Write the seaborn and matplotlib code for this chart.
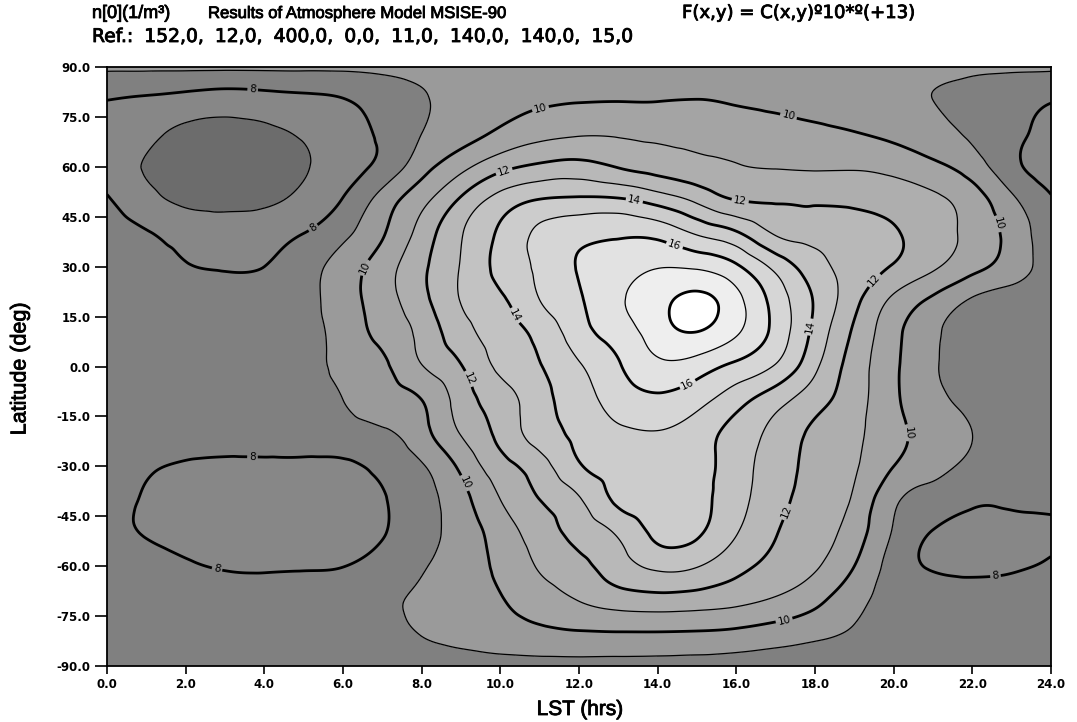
import numpy as np
import matplotlib
matplotlib.use("Agg")
import matplotlib.pyplot as plt
import matplotlib.tri as mtri
import matplotlib.patheffects as pe
import seaborn as sns

# Sample grid: local solar time (hours) and latitude (degrees)
lst_hours = np.arange(0, 25, 1)
latitudes = np.arange(-90, 91, 10)

# C(x, y) = n[O] / 1e13 m^-3, one list per latitude row (south to north)
row_s90 = [8.3, 8.3, 8.3, 8.3, 8.3, 8.3, 8.3, 8.3, 8.35, 8.45, 8.55, 8.6, 8.65, 8.65, 8.65, 8.6, 8.55, 8.45, 8.4, 8.35, 8.3, 8.3, 8.3, 8.3, 8.3]
row_s80 = [8.4, 8.4, 8.4, 8.4, 8.4, 8.4, 8.45, 8.65, 9.05, 9.35, 9.6, 9.8, 9.92, 9.96, 9.96, 9.92, 9.8, 9.55, 9.25, 8.9, 8.6, 8.5, 8.45, 8.4, 8.4]
row_s70 = [8.5, 8.5, 8.5, 8.5, 8.5, 8.5, 8.6, 8.85, 9.15, 9.55, 9.95, 10.5, 11.05, 11.5, 11.65, 11.55, 11.3, 10.9, 10.3, 9.3, 8.75, 8.55, 8.5, 8.5, 8.5]
row_s60 = [8.45, 8.4, 8.15, 7.9, 7.85, 7.9, 7.98, 8.4, 8.9, 9.55, 10.2, 11.1, 11.75, 12.55, 13.2, 13.05, 12.3, 11.7, 11.1, 10.0, 8.6, 7.9, 7.75, 7.85, 8.15]
row_s50 = [8.2, 7.95, 7.7, 7.6, 7.6, 7.6, 7.7, 7.95, 8.6, 9.45, 10.45, 11.5, 12.3, 13.14, 14.25, 14.15, 13.05, 12.05, 11.4, 10.5, 8.9, 7.95, 7.7, 7.7, 7.85]
row_s40 = [8.2, 7.95, 7.75, 7.65, 7.6, 7.65, 7.75, 7.95, 8.6, 9.65, 11.0, 12.0, 12.9, 14.2, 14.45, 14.3, 13.35, 12.35, 11.6, 10.85, 9.2, 8.6, 8.15, 8.15, 8.15]
row_s30 = [8.3, 8.1, 7.9, 7.8, 7.8, 7.82, 7.85, 8.2, 8.9, 10.2, 11.6, 12.57, 13.9, 14.35, 14.5, 14.35, 13.45, 12.5, 11.7, 11.1, 10.0, 9.3, 8.75, 8.5, 8.3]
row_s20 = [8.5, 8.5, 8.5, 8.5, 8.5, 8.5, 8.6, 8.85, 9.65, 11.06, 12.27, 13.47, 14.25, 14.8, 14.95, 14.5, 13.6, 12.7, 11.8, 11.2, 10.3, 9.6, 9.0, 8.6, 8.5]
row_s10 = [8.5, 8.5, 8.5, 8.5, 8.5, 8.7, 9.0, 9.5, 10.0, 11.45, 12.53, 13.63, 14.54, 15.45, 15.8, 15.35, 14.4, 13.4, 12.4, 11.4, 10.2, 9.27, 8.75, 8.55, 8.5]
row_eq = [8.5, 8.5, 8.5, 8.5, 8.5, 8.65, 9.22, 9.8, 10.95, 11.95, 13.21, 13.95, 14.9, 15.9, 16.75, 16.5, 15.75, 14.9, 13.2, 11.53, 10.2, 9.1, 8.7, 8.55, 8.5]
row_n10 = [8.5, 8.5, 8.5, 8.5, 8.55, 8.7, 9.38, 10.27, 11.29, 12.6, 13.48, 14.29, 15.55, 16.47, 17.5, 17.95, 17.1, 15.67, 13.7, 11.83, 10.3, 9.15, 8.7, 8.55, 8.5]
row_n20 = [8.5, 8.5, 8.5, 8.5, 8.55, 8.75, 9.5, 10.55, 11.7, 13.04, 13.84, 15.0, 15.9, 16.85, 17.65, 18.25, 17.3, 15.6, 13.9, 12.29, 10.8, 9.81, 8.9, 8.55, 8.5]
row_n30 = [8.4, 8.3, 8.05, 7.93, 8.0, 8.55, 9.44, 10.5, 11.79, 13.06, 14.28, 15.21, 16.05, 16.5, 16.95, 16.85, 16.15, 14.71, 13.4, 12.6, 11.92, 11.15, 10.31, 9.54, 8.4]
row_n40 = [8.25, 8.05, 7.7, 7.55, 7.7, 8.0, 8.75, 9.9, 11.39, 12.93, 14.17, 15.2, 15.7, 15.85, 15.7, 14.9, 14.15, 12.9, 12.65, 12.45, 12.1, 11.45, 10.7, 9.65, 8.25]
row_n50 = [8.1, 7.35, 6.8, 6.7, 6.8, 7.3, 8.05, 9.4, 10.7, 12.15, 13.4, 14.05, 14.2, 14.15, 13.6, 12.8, 12.0, 11.9, 11.85, 11.8, 11.6, 11.2, 10.5, 9.2, 8.1]
row_n60 = [7.55, 6.95, 6.7, 6.55, 6.65, 6.9, 7.6, 8.3, 9.6, 10.7, 11.7, 12.2, 12.35, 11.95, 11.6, 11.3, 11.05, 10.95, 10.9, 10.9, 10.7, 10.25, 9.5, 8.3, 7.55]
row_n70 = [7.7, 7.2, 6.85, 6.75, 6.85, 7.1, 7.6, 8.15, 9.0, 9.6, 10.2, 10.7, 10.9, 10.9, 10.8, 10.7, 10.55, 10.4, 10.25, 10.05, 9.75, 9.35, 8.85, 8.25, 7.7]
row_n80 = [8.0, 7.85, 7.65, 7.5, 7.6, 7.75, 7.95, 8.4, 8.9, 9.3, 9.6, 9.85, 9.95, 9.97, 9.97, 10.02, 9.9, 9.75, 9.55, 9.35, 9.15, 9.0, 8.7, 8.35, 8.05]
row_n90 = [9.2, 9.2, 9.2, 9.2, 9.2, 9.2, 9.2, 9.25, 9.3, 9.4, 9.5, 9.6, 9.65, 9.65, 9.65, 9.65, 9.6, 9.5, 9.4, 9.3, 9.2, 9.2, 9.2, 9.2, 9.2]

density = np.array([row_s90, row_s80, row_s70, row_s60, row_s50, row_s40, row_s30,
                    row_s20, row_s10, row_eq, row_n10, row_n20, row_n30, row_n40,
                    row_n50, row_n60, row_n70, row_n80, row_n90])

# Band limits and pattern greys of the filled map
fill_levels = [0, 7, 8, 9, 10, 11, 12, 13, 14, 15, 16, 17, 18, 40]
fill_colors = ["#6c6c6c", "#878787", "#808080", "#9a9a9a", "#a4a4a4", "#aeaeae",
               "#b8b8b8", "#c2c2c2", "#cccccc", "#d6d6d6", "#e2e2e2", "#eeeeee", "#ffffff"]
major_levels = [8, 10, 12, 14, 16, 18]
minor_levels = [7, 9, 11, 13, 15, 17]
label_spots = [(3.7, 82.6), (5.2, 42.4), (3.7, -25.8), (2.8, -60.8), (22.6, -64.4),
               (11.0, 78.6), (17.3, 74.0), (6.5, 30.0), (9.1, -35.0), (22.7, 43.0),
               (20.3, -20.0), (17.2, -75.5), (10.1, 58.5), (16.1, 50.0), (9.3, -3.2),
               (19.5, 26.0), (17.4, -44.3), (13.4, 49.5), (10.5, 16.0), (17.9, 11.8),
               (14.4, 35.5), (14.8, -6.2)]

x_ticks = np.arange(0, 25, 2)
y_ticks = np.arange(-90, 91, 15)

# Header texts
unit_text = "n[0](1/m³)"
model_text = "Results of Atmosphere Model MSISE-90"
scale_text = "F(x,y) = C(x,y)º10*º(+13)"
ref_items = ["Ref.:", "152,0,", "12,0,", "400,0,", "0,0,", "11,0,", "140,0,", "140,0,", "15,0"]

sns.set_style("ticks")
plt.rcParams["font.family"] = ["DejaVu Sans"]
plt.rcParams["text.color"] = "black"

# Smooth surface through the grid: cubic interpolation on a triangulated mesh
nx, ny = len(lst_hours), len(latitudes)
gx, gy = np.meshgrid(lst_hours.astype(float), latitudes / 10.0)
tris = []
for j in range(ny - 1):
    for i in range(nx - 1):
        a = j * nx + i
        tris.append([a, a + 1, a + nx + 1])
        tris.append([a, a + nx + 1, a + nx])
tri = mtri.Triangulation(gx.ravel(), gy.ravel(), np.array(tris))
interp = mtri.CubicTriInterpolator(tri, density.ravel(), kind="min_E")
fx = np.linspace(0, 24, 481)
fy = np.linspace(-90, 90, 541)
FX, FY = np.meshgrid(fx, fy)
FZ = interp(FX, FY / 10.0)

W, H = 1077, 722
fig = plt.figure(figsize=(W / 100, H / 100), dpi=100)
ax = fig.add_axes([107 / W, 1 - 666 / H, 944 / W, 599 / H])

ax.contourf(FX, FY, FZ, levels=fill_levels, colors=fill_colors)
ax.contour(FX, FY, FZ, levels=minor_levels, colors="black", linewidths=0.9)
cs_major = ax.contour(FX, FY, FZ, levels=major_levels, colors="black", linewidths=2.0)
ax.clabel(cs_major, fmt="%d", fontsize=7.5, inline=True, inline_spacing=2,
          manual=label_spots)

ax.set_xlim(0, 24)
ax.set_ylim(-90, 90)
ax.set_xticks(x_ticks)
ax.set_yticks(y_ticks)
ax.set_xticklabels([f"{v:.1f}" for v in x_ticks])
ax.set_yticklabels([f"{v:.1f}" for v in y_ticks])
ax.tick_params(axis="both", direction="out", width=1.2, color="black",
               labelsize=8.5, labelcolor="black")
ax.tick_params(axis="x", length=6, pad=3)
ax.tick_params(axis="y", length=8.5, pad=3.5)
for lab in ax.get_xticklabels() + ax.get_yticklabels():
    lab.set_fontweight("bold")
for side in ax.spines.values():
    side.set_linewidth(1.3)
    side.set_color("black")

sans = ["Liberation Sans", "DejaVu Sans"]
heavy = [pe.withStroke(linewidth=0.6, foreground="black")]
fig.text(580 / W, 1 - 715 / H, "LST (hrs)", ha="center", va="baseline",
         fontsize=15, family=sans, color="black", path_effects=heavy)
fig.text(20 / W, 1 - 369 / H, "Latitude (deg)", ha="center", va="center",
         rotation=90, fontsize=15.5, family=sans, color="black", path_effects=heavy)

fig.text(92 / W, 1 - 18 / H, unit_text, ha="left", va="baseline",
         fontsize=13, family=sans, color="black", path_effects=heavy)
fig.text(208 / W, 1 - 18 / H, model_text, ha="left", va="baseline",
         fontsize=12, family=sans, color="black", path_effects=heavy)
fig.text(682 / W, 1 - 18 / H, scale_text, ha="left", va="baseline",
         fontsize=13, family=["DejaVu Sans"], color="black", path_effects=heavy)

# Reference line: items spread evenly from the left margin to x = 633 px
renderer = fig.canvas.get_renderer()
pieces = [fig.text(0, 1 - 42 / H, item, ha="left", va="baseline", fontsize=13.5,
                   family=["DejaVu Sans"], color="black", path_effects=heavy)
          for item in ref_items]
widths = [p.get_window_extent(renderer).width for p in pieces]
gap = (633 - 92 - sum(widths)) / (len(pieces) - 1)
x_px = 92.0
for p, w in zip(pieces, widths):
    p.set_x(x_px / W)
    x_px += w + gap

fig.savefig("out.png", dpi=100)
